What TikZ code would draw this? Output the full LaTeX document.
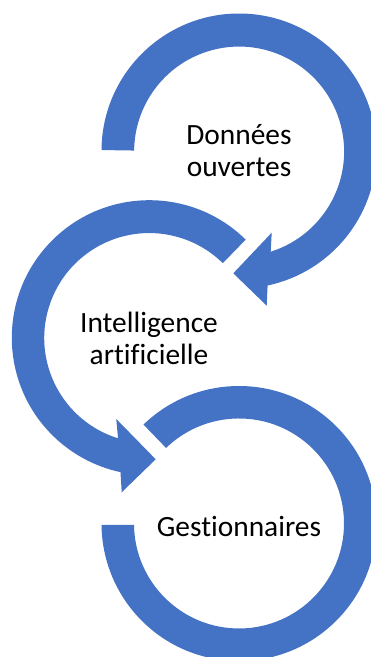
\documentclass[tikz,border=0pt]{standalone}
\usepackage{fontspec}
\setmainfont[Ligatures=CommonOff]{Carlito}
\definecolor{ringblue}{HTML}{4472C4}
\tikzset{
  ringarrow/.style={fill=ringblue,draw=none},
  label/.style={inner sep=0pt,align=center,text=black,font=\fontsize{29.4}{32}\selectfont}
}
\begin{document}
\begin{tikzpicture}[x=1pt,y=1pt]
\useasboundingbox (0,0) rectangle (371,657);
\clip (0,0) rectangle (371,657);
\coordinate (c1) at (239,506);
\coordinate (c2) at (149.3,319.3);
\coordinate (c3) at (239,133.5);
% top ring
\fill[ringarrow] (c1) ++(179.6:137.5) arc[start angle=179.6,end angle=-78,radius=137.5]
  -- (266.7,351.3) -- (233.3,383.7) -- (271.7,424.3)
  -- (270.7,405.3) arc[start angle=-72.5,end angle=179.45,radius=105] -- cycle;
% middle ring
\fill[ringarrow] (c2) ++(45.5:137.5) arc[start angle=45.5,end angle=257.9,radius=137.5]
  -- (121.7,164.7) -- (155.7,197.7) -- (116.3,238)
  -- (118,218.7) arc[start angle=252.7,end angle=45.5,radius=105] -- cycle;
% bottom ring
\fill[ringarrow] (c3) ++(134:137.5) arc[start angle=134,end angle=-179.4,radius=137.5]
  -- ++(32.5,0) arc[start angle=-179.2,end angle=134,radius=105] -- cycle;
\node[label] (donnees) at (239,506) {Données\\ouvertes};
\node[label] (ia) at (149,318.5) {Intelligence\\artificielle};
\node[label] (gest) at (239,131) {Gestionnaires};
\end{tikzpicture}
\end{document}
